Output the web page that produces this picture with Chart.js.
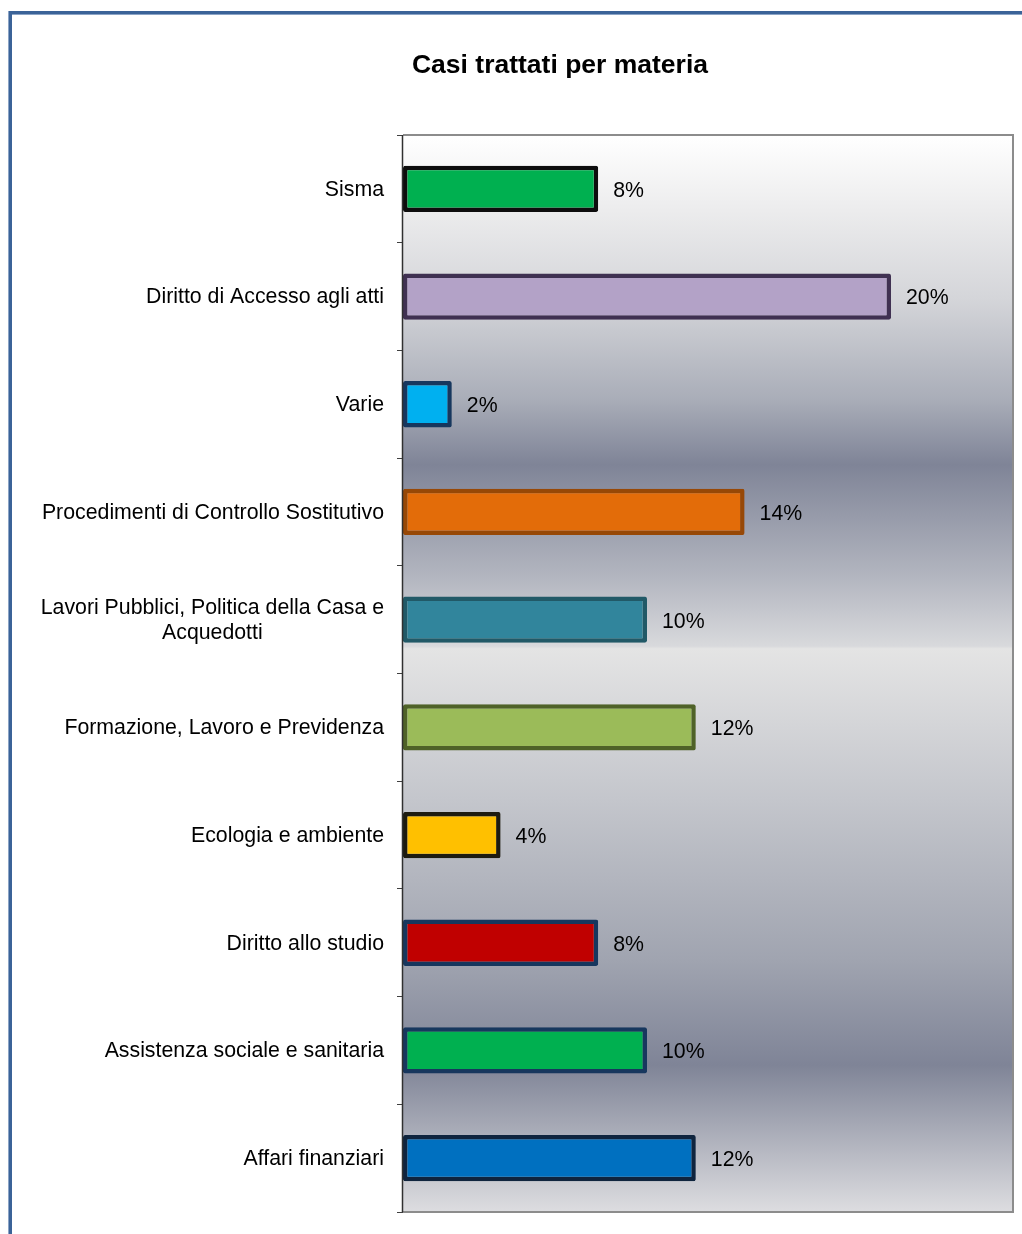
<!DOCTYPE html>
<html>
<head>
<meta charset="utf-8">
<script src="https://cdn.jsdelivr.net/npm/chart.js@4/dist/chart.umd.min.js"></script>
<style>
  html, body { margin: 0; padding: 0; background: #fff; }
  #wrap { position: relative; width: 1022px; height: 1234px; }
</style>
</head>
<body>
<div id="wrap"><canvas id="myChart1"></canvas></div>
<script>
var chart_title = "Casi trattati per materia";

var categories = [
    "Sisma",
    "Diritto di Accesso agli atti",
    "Varie",
    "Procedimenti di Controllo Sostitutivo",
    ["Lavori Pubblici, Politica della Casa e", "Acquedotti"],
    "Formazione, Lavoro e Previdenza",
    "Ecologia e ambiente",
    "Diritto allo studio",
    "Assistenza sociale e sanitaria",
    "Affari finanziari"
];

var values = [8, 20, 2, 14, 10, 12, 4, 8, 10, 12];

var fill_colors = ["#00b050", "#b3a2c7", "#00b0f0", "#e36c09", "#31859c",
    "#9bbb59", "#ffc000", "#c00000", "#00b050", "#0070c0"];
var border_colors = ["#0d0d0d", "#403152", "#17375e", "#974806", "#215967",
    "#4f6228", "#1d1b10", "#17375e", "#17375e", "#0f243e"];

var x_max = 25;
var label_font = "21.3px 'Liberation Sans', Arial, sans-serif";

// frame + title + plot background
const backgroundPlugin = {
    id: "backgroundPlugin",
    beforeDraw(chart) {
        const ctx = chart.ctx;
        const a = chart.chartArea;
        ctx.save();
        ctx.fillStyle = "#ffffff";
        ctx.fillRect(0, 0, chart.width, chart.height);

        // blue frame on left and top
        ctx.fillStyle = "#3b6398";
        ctx.fillRect(9, 11, 3, chart.height - 11);
        ctx.fillRect(9, 11, chart.width - 9, 3);
        ctx.fillStyle = "#8ba4c6";
        ctx.fillRect(8, 11, 1, chart.height - 11);
        ctx.fillRect(12, 14, chart.width - 12, 1);

        // title
        ctx.fillStyle = "#000";
        ctx.font = "bold 26.5px 'Liberation Sans', Arial, sans-serif";
        ctx.textAlign = "center";
        ctx.textBaseline = "middle";
        ctx.fillText(chart_title, 560, 66);

        // gradient plot area
        const g = ctx.createLinearGradient(0, a.top, 0, a.bottom);
        g.addColorStop(0, "#ffffff");
        g.addColorStop(0.07, "#ececed");
        g.addColorStop(0.153, "#d4d5d9");
        g.addColorStop(0.246, "#a9adb8");
        g.addColorStop(0.306, "#7f8497");
        g.addColorStop(0.409, "#b2b5bf");
        g.addColorStop(0.4745, "#d8d9dc");
        g.addColorStop(0.477, "#e4e4e4");
        g.addColorStop(0.617, "#c4c6cc");
        g.addColorStop(0.766, "#a0a4b0");
        g.addColorStop(0.8635, "#7f8497");
        g.addColorStop(1, "#dddde0");
        ctx.fillStyle = g;
        ctx.fillRect(a.left, a.top, a.right - a.left, a.bottom - a.top);
        ctx.restore();
    },
    afterDraw(chart) {
        const ctx = chart.ctx;
        const a = chart.chartArea;
        ctx.save();
        ctx.strokeStyle = "#8c8c8c";
        ctx.lineWidth = 2;
        ctx.beginPath();
        ctx.moveTo(a.left, a.top);
        ctx.lineTo(a.right, a.top);
        ctx.lineTo(a.right, a.bottom);
        ctx.lineTo(a.left, a.bottom);
        ctx.stroke();
        ctx.strokeStyle = "#303030";
        ctx.lineWidth = 1.5;
        ctx.beginPath();
        ctx.moveTo(a.left - 0.5, a.top);
        ctx.lineTo(a.left - 0.5, a.bottom);
        ctx.stroke();
        ctx.restore();
    }
};

// category labels: block right aligned, lines centered inside it
const yLabelPlugin = {
    id: "yLabelPlugin",
    afterDraw(chart) {
        const ctx = chart.ctx;
        const y_scale = chart.scales.y;
        const right_x = chart.chartArea.left - 19;
        ctx.save();
        ctx.font = label_font;
        ctx.fillStyle = "#000";
        ctx.textAlign = "center";
        ctx.textBaseline = "middle";
        categories.forEach(function (cat, i) {
            let lines = Array.isArray(cat) ? cat : [cat];
            let max_w = 0;
            lines.forEach(function (l) { max_w = Math.max(max_w, ctx.measureText(l).width); });
            let cy = y_scale.getPixelForValue(i) + 1;
            let line_h = 25;
            let start_y = cy - (lines.length - 1) * line_h / 2;
            lines.forEach(function (l, j) {
                ctx.fillText(l, right_x - max_w / 2, start_y + j * line_h);
            });
        });
        ctx.restore();
    }
};

// percent labels at the bar ends
const valueLabelPlugin = {
    id: "valueLabelPlugin",
    afterDatasetsDraw(chart) {
        const ctx = chart.ctx;
        const meta = chart.getDatasetMeta(0);
        ctx.save();
        ctx.font = label_font;
        ctx.fillStyle = "#000";
        ctx.textAlign = "left";
        ctx.textBaseline = "middle";
        meta.data.forEach(function (bar, i) {
            ctx.fillText(values[i] + "%", bar.x + 15, bar.y + 2);
        });
        ctx.restore();
    }
};

const ctx = document.getElementById("myChart1").getContext("2d");
var myChart = new Chart(ctx, {
    type: "bar",
    data: {
        labels: categories,
        datasets: [{
            data: values,
            backgroundColor: fill_colors,
            borderColor: border_colors,
            borderWidth: 4.5,
            borderRadius: 2,
            borderSkipped: false,
            barPercentage: 0.43,
            categoryPercentage: 1
        }]
    },
    options: {
        indexAxis: "y",
        responsive: true,
        maintainAspectRatio: false,
        animation: false,
        layout: { padding: { top: 135, bottom: 22, right: 9, left: 0 } },
        plugins: {
            legend: { display: false },
            tooltip: { enabled: false }
        },
        scales: {
            x: { display: false, min: 0, max: x_max },
            y: {
                afterFit: function (scale) { scale.width = 403; },
                ticks: { display: false },
                grid: {
                    display: true,
                    offset: true,
                    drawOnChartArea: false,
                    drawTicks: true,
                    tickLength: 6,
                    color: "#404040"
                },
                border: { display: false }
            }
        }
    },
    plugins: [backgroundPlugin, yLabelPlugin, valueLabelPlugin]
});
</script>
</body>
</html>
